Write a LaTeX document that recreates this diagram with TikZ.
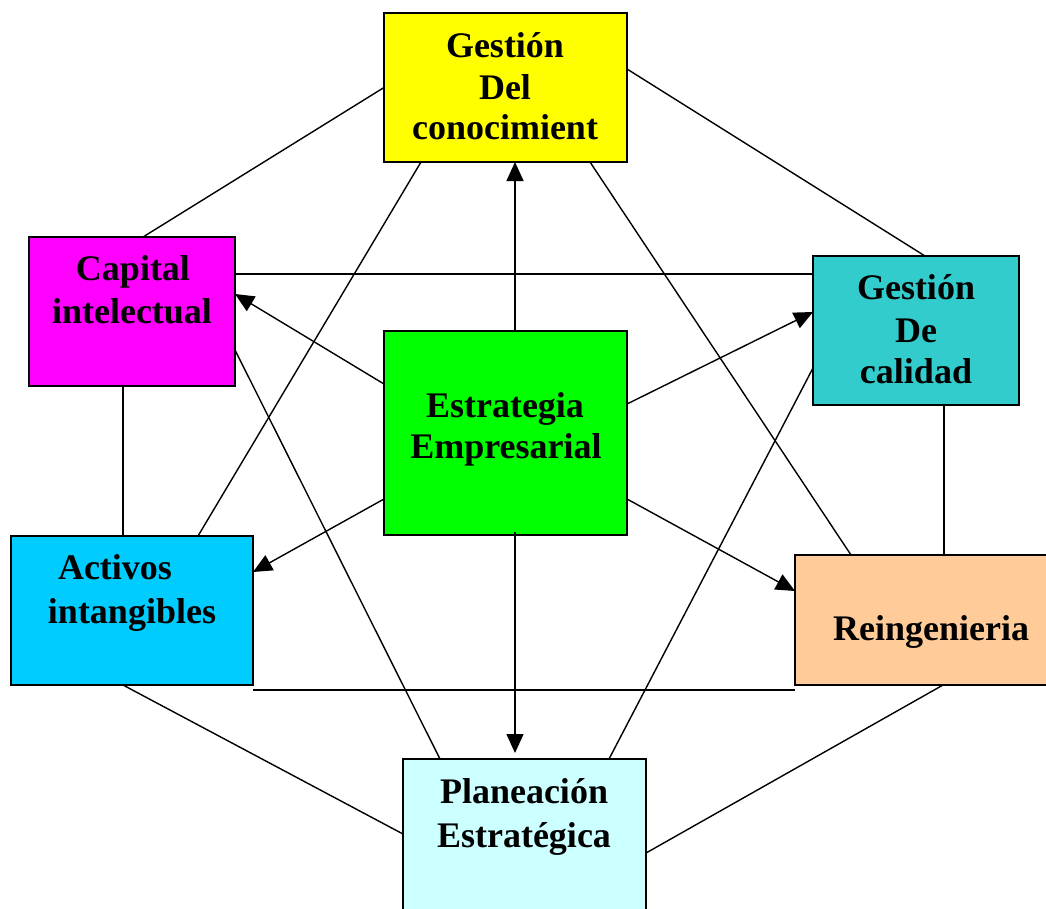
\documentclass[tikz,border=0pt]{standalone}
\usepackage{fontspec}
\setmainfont{Liberation Serif}
\usetikzlibrary{arrows.meta,calc}
\definecolor{cyell}{HTML}{FFFF00}
\definecolor{cmag}{HTML}{FF00FF}
\definecolor{cteal}{HTML}{33CCCC}
\definecolor{cgreen}{HTML}{00FF00}
\definecolor{ccyan}{HTML}{00CCFF}
\definecolor{cpeach}{HTML}{FFCC99}
\definecolor{clcyan}{HTML}{CCFFFF}
\begin{document}
\begin{tikzpicture}[x=1pt,y=-1pt,
  box/.style={draw=black,line width=1.6pt,rectangle,inner sep=0pt,outer sep=0pt},
  lbl/.style={font=\fontsize{36}{42}\selectfont\bfseries,inner sep=0pt,anchor=base},
  conn/.style={line width=1.4pt},
  arr/.style={line width=1.4pt,-{Triangle[length=19pt,width=17pt]}}]
\useasboundingbox (0,0) rectangle (1046,908);
\clip (0,0) rectangle (1046,908);
% boxes
\node[box,fill=cyell,minimum width=243pt,minimum height=149pt] (G) at (505.5,87.5) {};
\node[box,fill=cmag,minimum width=206pt,minimum height=149pt] (C) at (132,311.5) {};
\node[box,fill=cteal,minimum width=206pt,minimum height=149pt] (Q) at (916,330.5) {};
\node[box,fill=cgreen,minimum width=243pt,minimum height=204pt] (E) at (505.5,433) {};
\node[box,fill=ccyan,minimum width=242pt,minimum height=149pt] (A) at (132,610.5) {};
\node[box,fill=cpeach,minimum width=256pt,minimum height=130pt] (R) at (923,620) {};
\node[box,fill=clcyan,minimum width=243pt,minimum height=155pt] (P) at (524.5,836.5) {};
% labels
\node[lbl] (g1) at (505,57) {Gestión};
\node[lbl] (g2) at (505,99) {Del};
\node[lbl] (g3) at (505,139) {conocimient};
\node[lbl] (c1) at (133,280) {Capital};
\node[lbl] (c2) at (132,323) {intelectual};
\node[lbl] (q1) at (916,299) {Gestión};
\node[lbl] (q2) at (916,342) {De};
\node[lbl] (q3) at (916,383) {calidad};
\node[lbl] (e1) at (505,417) {Estrategia};
\node[lbl] (e2) at (506,458) {Empresarial};
\node[lbl] (a1) at (115,579) {Activos};
\node[lbl] (a2) at (132,623) {intangibles};
\node[lbl] (r1) at (931,640) {Reingenieria};
\node[lbl] (p1) at (524,803) {Planeación};
\node[lbl] (p2) at (524,847) {Estratégica};
% connectors
\draw[conn] (G.west) -- ($(C.north)+(11,0)$);
\draw[conn] ($(G.north east)+(0,56)$) -- ($(Q.north)+(9,0)$);
\draw[conn] ($(G.south west)+(37,0)$) -- ($(A.north west)+(187,0)$);
\draw[conn] ($(G.south west)+(206,0)$) -- ($(R.north west)+(56,0)$);
\draw[conn] ($(C.north east)+(0,37)$) -- ($(Q.north west)+(0,18)$);
\draw[conn] ($(C.south west)+(94,0)$) -- ($(A.north west)+(112,0)$);
\draw[conn] ($(C.north east)+(0,113)$) -- ($(P.north west)+(37,0)$);
\draw[conn] ($(Q.north west)+(0,112)$) -- ($(P.north west)+(206,0)$);
\draw[conn] ($(Q.south west)+(131,0)$) -- ($(R.north west)+(149,0)$);
\coordinate (h1) at ($(A.south east)+(0,5)$);
\coordinate (h2) at ($(R.south west)+(0,5)$);
\draw[conn] (h1) -- (h2);
\draw[conn] ($(A.south west)+(112,0)$) -- ($(P.north west)+(0,75)$);
\draw[conn] ($(R.south west)+(148,0)$) -- ($(P.north east)+(0,94)$);
% arrows
\draw[arr] ($(E.north west)+(131,0)$) -- ($(G.south west)+(131,0)$);
\draw[arr] ($(E.north west)+(0,53)$) -- ($(C.north east)+(0,57)$);
\draw[arr] ($(E.north east)+(0,73)$) -- ($(Q.north west)+(0,56)$);
\draw[arr] ($(E.north west)+(0,168)$) -- ($(A.north east)+(0,36)$);
\draw[arr] ($(E.north east)+(0,168)$) -- ($(R.north west)+(0,36)$);
\draw[arr] ($(E.south west)+(131,-3)$) -- ($(P.north west)+(112,-6)$);
\end{tikzpicture}
\end{document}
